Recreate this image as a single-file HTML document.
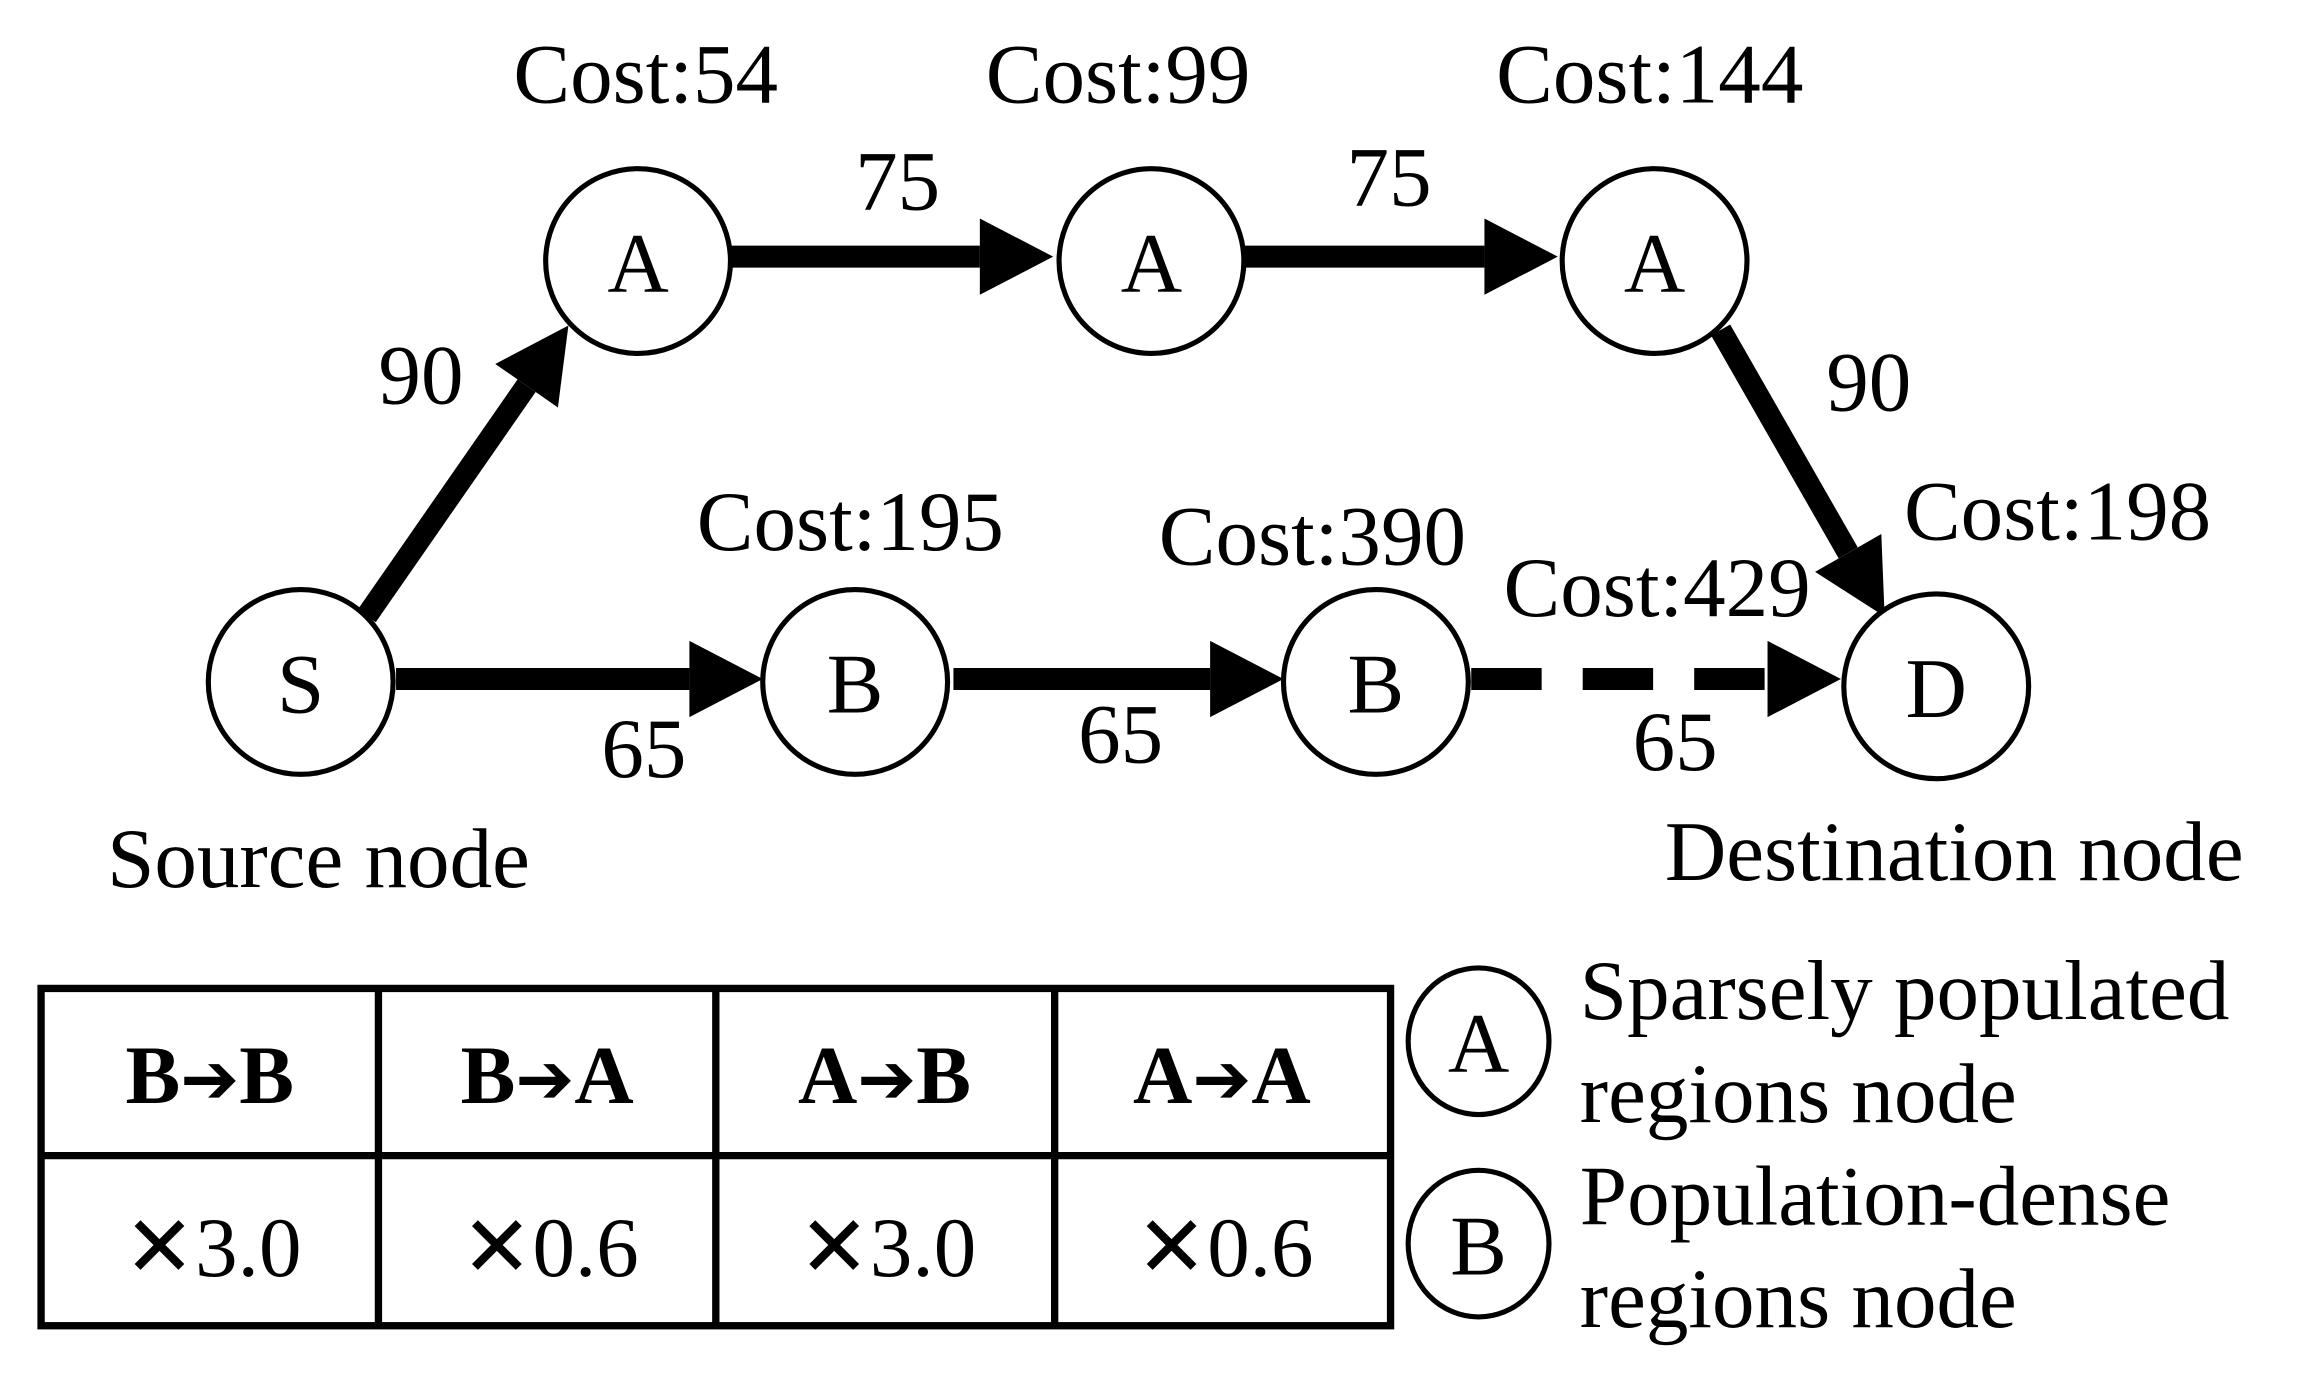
<!DOCTYPE html>
<html><head><meta charset="utf-8"><style>html,body{margin:0;padding:0;background:#fff}svg{display:block}</style></head><body>
<svg width="2300" height="1380" viewBox="0 0 1568 941" preserveAspectRatio="none" xmlns="http://www.w3.org/2000/svg" font-family="Liberation Serif, serif" font-size="58" fill="#000">
<defs>
<marker id="ah" markerUnits="userSpaceOnUse" markerWidth="60" markerHeight="52" refX="0" refY="26" orient="auto" overflow="visible">
<path d="M0,0 L50,26 L0,52 Z" fill="#000"/></marker>
</defs>
<g stroke="#000" stroke-width="15" fill="none">
<line x1="250" y1="420" x2="359" y2="263" marker-end="url(#ah)"/>
<line x1="498" y1="175" x2="668" y2="175" marker-end="url(#ah)"/>
<line x1="848" y1="175" x2="1012" y2="175" marker-end="url(#ah)"/>
<line x1="1173" y1="225" x2="1260" y2="377" marker-end="url(#ah)"/>
<line x1="270" y1="463" x2="470" y2="463" marker-end="url(#ah)"/>
<line x1="650" y1="463" x2="825" y2="463" marker-end="url(#ah)"/>
<line x1="1003" y1="463" x2="1205" y2="463" stroke-dasharray="48,28"/>
</g>
<path d="M1205,437 L1255,463 L1205,489 Z" fill="#000"/>
<g stroke="#000" stroke-width="3.5" fill="#fff">
<ellipse cx="435" cy="178" rx="63" ry="63"/>
<ellipse cx="785" cy="178" rx="63" ry="63"/>
<ellipse cx="1128" cy="178" rx="63" ry="63"/>
<ellipse cx="205" cy="465" rx="63" ry="63"/>
<ellipse cx="583" cy="465" rx="63" ry="63"/>
<ellipse cx="938" cy="465" rx="63" ry="63"/>
<ellipse cx="1320" cy="468" rx="63" ry="63"/>
<ellipse cx="1008" cy="710" rx="48" ry="50"/>
<ellipse cx="1008" cy="848" rx="48" ry="50"/>
</g>
<g text-anchor="middle" font-size="58">
<text x="435" y="199">A</text><text x="785" y="199">A</text><text x="1128" y="199">A</text>
<text x="205" y="486">S</text><text x="583" y="486">B</text><text x="938" y="486">B</text><text x="1320" y="489">D</text>
<text x="1008" y="731">A</text><text x="1008" y="869">B</text>
</g>
<text x="350" y="70">Cost:54</text>
<text x="672" y="70">Cost:99</text>
<text x="1020" y="70">Cost:144</text>
<text x="583" y="143">75</text>
<text x="918" y="140">75</text>
<text x="258" y="275">90</text>
<text x="1245" y="280">90</text>
<text x="475" y="375">Cost:195</text>
<text x="790" y="385">Cost:390</text>
<text x="1025" y="420">Cost:429</text>
<text x="1298" y="368">Cost:198</text>
<text x="410" y="530">65</text>
<text x="735" y="520">65</text>
<text x="1113" y="525">65</text>
<text x="73" y="605">Source node</text>
<text x="1135" y="600">Destination node</text>
<g stroke="#000" stroke-width="5" fill="none">
<rect x="28" y="674" width="920" height="230"/>
<line x1="28" y1="788" x2="948" y2="788"/>
<line x1="258" y1="674" x2="258" y2="904"/>
<line x1="488" y1="674" x2="488" y2="904"/>
<line x1="719" y1="674" x2="719" y2="904"/>
</g>
<g text-anchor="middle" font-weight="bold" font-size="56">
<text x="143" y="752">B<tspan font-family="DejaVu Sans" font-size="48">➔</tspan>B</text>
<text x="373" y="752">B<tspan font-family="DejaVu Sans" font-size="48">➔</tspan>A</text>
<text x="603" y="752">A<tspan font-family="DejaVu Sans" font-size="48">➔</tspan>B</text>
<text x="833" y="752">A<tspan font-family="DejaVu Sans" font-size="48">➔</tspan>A</text>
</g>
<g text-anchor="middle" font-size="58">
<text x="145" y="870">✕3.0</text><text x="375" y="870">✕0.6</text><text x="605" y="870">✕3.0</text><text x="835" y="870">✕0.6</text>
</g>
<text x="1077" y="695">Sparsely populated</text>
<text x="1077" y="765">regions node</text>
<text x="1077" y="835">Population-dense</text>
<text x="1077" y="905">regions node</text>
</svg>
</body></html>
